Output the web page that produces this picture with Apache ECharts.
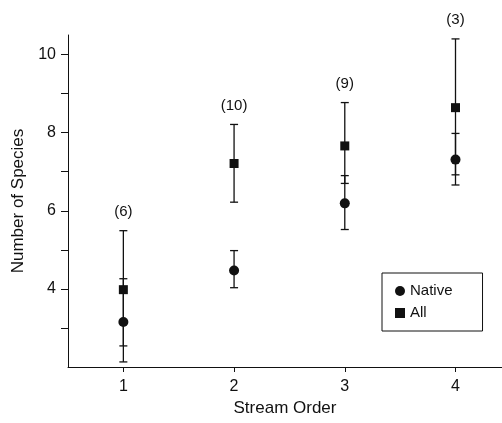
<!DOCTYPE html>
<html>
<head>
<meta charset="utf-8">
<script src="https://cdn.jsdelivr.net/npm/echarts@6/dist/echarts.min.js"></script>
<style>
html,body{margin:0;padding:0;background:#fff;}
#chart{width:502px;height:423px;}
</style>
</head>
<body>
<div id="chart"></div>
<script>
const streamOrder = [1, 2, 3, 4];
const nativeMean = [3.15, 4.47, 6.19, 7.31];
const nativeLow  = [2.13, 4.03, 5.52, 6.66];
const nativeHigh = [4.26, 4.98, 6.90, 7.98];
const allMean = [3.98, 7.21, 7.66, 8.64];
const allLow  = [2.54, 6.22, 6.70, 6.92];
const allHigh = [5.49, 8.21, 8.77, 10.40];
const sampleN = [6, 10, 9, 3];
const xTicks = [1, 2, 3, 4];
const yLabels = [4, 6, 8, 10];
const yTicks = [3, 4, 5, 6, 7, 8, 9, 10];

const FONT = '"Liberation Sans", Arial, Helvetica, sans-serif';
const INK = '#111';

function errorBars(withLabel) {
  return function (params, api) {
    const x = api.value(0), lo = api.value(1), hi = api.value(2);
    const pLo = api.coord([x, lo]);
    const pHi = api.coord([x, hi]);
    const hw = 4;
    const ls = { stroke: INK, lineWidth: 1.3 };
    const children = [
      { type: 'line', shape: { x1: pLo[0], y1: pLo[1], x2: pHi[0], y2: pHi[1] }, style: ls },
      { type: 'line', shape: { x1: pHi[0] - hw, y1: pHi[1], x2: pHi[0] + hw, y2: pHi[1] }, style: ls },
      { type: 'line', shape: { x1: pLo[0] - hw, y1: pLo[1], x2: pLo[0] + hw, y2: pLo[1] }, style: ls }
    ];
    if (withLabel) {
      children.push({
        type: 'text',
        style: {
          text: '(' + api.value(3) + ')',
          x: pHi[0], y: pHi[1] - 19,
          align: 'center', verticalAlign: 'middle',
          fontSize: 15, fontFamily: FONT, fill: INK
        }
      });
    }
    return { type: 'group', children: children };
  };
}

const chart = echarts.init(document.getElementById('chart'), null, { renderer: 'canvas' });
chart.setOption({
  animation: false,
  backgroundColor: '#fff',
  textStyle: { fontFamily: FONT, color: INK },
  grid: { left: 68, right: 0, top: 35, bottom: 56, containLabel: false },
  legend: {
    orient: 'vertical',
    left: 382, top: 273,
    padding: [10, 30, 10, 13],
    borderColor: INK, borderWidth: 1,
    itemWidth: 10, itemHeight: 10, itemGap: 6, itemTextGap: 15,
    textStyle: { fontSize: 15, color: INK, fontFamily: FONT, lineHeight: 16 },
    data: [
      { name: 'Native', icon: 'circle' },
      { name: 'All', icon: 'rect' }
    ]
  },
  xAxis: {
    type: 'value', min: 0.5, max: 4.42,
    name: 'Stream Order', nameLocation: 'middle', nameGap: 33,
    nameTextStyle: { fontSize: 17, color: INK, fontFamily: FONT },
    axisLine: { show: true, lineStyle: { color: INK, width: 1 } },
    axisTick: { show: true, length: 5, customValues: xTicks, lineStyle: { color: INK } },
    axisLabel: { customValues: xTicks, fontSize: 16, color: INK, margin: 12, fontFamily: FONT },
    splitLine: { show: false }
  },
  yAxis: {
    type: 'value', min: 2, max: 10.5,
    name: 'Number of Species', nameLocation: 'middle', nameGap: 38,
    nameTextStyle: { fontSize: 17, color: INK, fontFamily: FONT },
    axisLine: { show: true, lineStyle: { color: INK, width: 1 } },
    axisTick: { show: true, length: 7, customValues: yTicks, lineStyle: { color: INK } },
    axisLabel: { customValues: yLabels, fontSize: 16, color: INK, margin: 12, fontFamily: FONT },
    splitLine: { show: false }
  },
  series: [
    {
      name: 'NativeErr', type: 'custom', renderItem: errorBars(false),
      encode: { x: 0, y: [1, 2] }, z: 1,
      data: streamOrder.map((x, i) => [x, nativeLow[i], nativeHigh[i]])
    },
    {
      name: 'AllErr', type: 'custom', renderItem: errorBars(true),
      encode: { x: 0, y: [1, 2] }, z: 1,
      data: streamOrder.map((x, i) => [x, allLow[i], allHigh[i], sampleN[i]])
    },
    {
      name: 'Native', type: 'scatter', symbol: 'circle', symbolSize: 10, z: 3,
      itemStyle: { color: INK, opacity: 1 },
      data: streamOrder.map((x, i) => [x, nativeMean[i]])
    },
    {
      name: 'All', type: 'scatter', symbol: 'rect', symbolSize: 9, z: 3,
      itemStyle: { color: INK, opacity: 1 },
      data: streamOrder.map((x, i) => [x, allMean[i]])
    }
  ]
});
</script>
</body>
</html>
